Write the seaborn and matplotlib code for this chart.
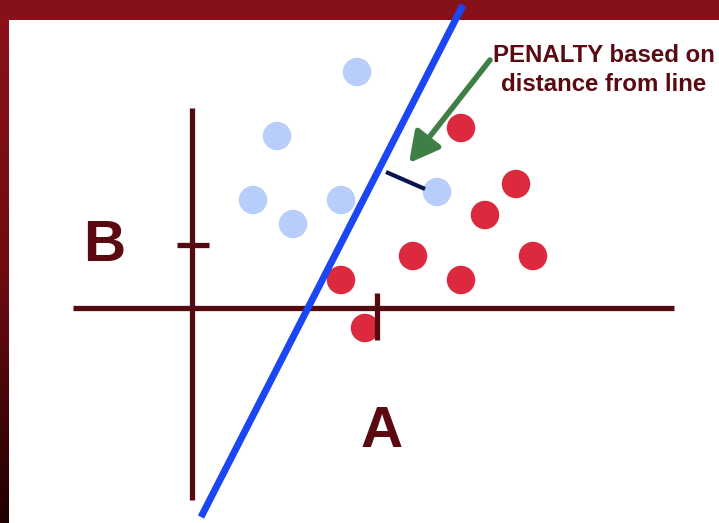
import numpy as np
import pandas as pd
import matplotlib.pyplot as plt
import seaborn as sns
from matplotlib.colors import LinearSegmentedColormap

# point positions (pixel units, y downward)
blue_x = [357, 277, 253, 293, 341, 437]
blue_y = [72, 136, 200, 224, 200, 192]
red_x = [461, 516, 485, 413, 533, 461, 341, 365]
red_y = [128, 184, 215, 256, 256, 280, 280, 328]

# separating line, axes and the penalty segment
line_x = [463, 201]
line_y = [5, 517]
axis_h_x = [73, 674]
axis_h_y = [308, 308]
axis_v_x = [192, 192]
axis_v_y = [108, 500]
tick_b_x = [177, 209]
tick_b_y = [245, 245]
tick_a_x = [377, 377]
tick_a_y = [293, 340]
penalty_x = [386, 425]
penalty_y = [172, 189]

note_text = "PENALTY based on\ndistance from line"

maroon = "#540A0F"
text_col = "#5A0A10"

sns.set_theme(style="white")
plt.rcParams['font.family'] = ['Liberation Sans', 'DejaVu Sans']

fig = plt.figure(figsize=(7.19, 5.23), dpi=100)
ax = fig.add_axes([0, 0, 1, 1])
ax.set_xlim(0, 719)
ax.set_ylim(523, 0)
ax.axis("off")

# slide frame: top bar and gradient left bar
ax.fill_between([0, 719], 0, 20, color="#87111A", lw=0, zorder=0)
grad = LinearSegmentedColormap.from_list("bar", ["#8B1119", "#6E0C12", "#200000"])
ax.imshow(np.linspace(0, 1, 256).reshape(-1, 1), cmap=grad, aspect="auto",
          extent=(0, 9, 523, 20), zorder=0)

# axes of the diagram
ax.plot(axis_h_x, axis_h_y, color=maroon, lw=3.8, solid_capstyle="butt", zorder=1)
ax.plot(axis_v_x, axis_v_y, color=maroon, lw=3.8, solid_capstyle="butt", zorder=1)
ax.plot(tick_b_x, tick_b_y, color=maroon, lw=3.8, solid_capstyle="butt", zorder=1)

df = pd.DataFrame({
    "x": blue_x + red_x,
    "y": blue_y + red_y,
    "cls": ["blue"] * len(blue_x) + ["red"] * len(red_x),
})
sns.scatterplot(data=df, x="x", y="y", hue="cls",
                palette={"blue": "#B8CEFA", "red": "#DB2A3E"},
                s=420, linewidth=0, legend=False, ax=ax, zorder=2)
ax.plot(tick_a_x, tick_a_y, color=maroon, lw=3.8, solid_capstyle="butt", zorder=3)

ax.plot(line_x, line_y, color="#1A46F5", lw=5, solid_capstyle="butt", zorder=4)
ax.plot(penalty_x, penalty_y, color="#0A1550", lw=3, solid_capstyle="butt", zorder=4)

ax.annotate("", xy=(409, 163), xytext=(490, 60),
            arrowprops=dict(arrowstyle="-|>,head_length=1.5,head_width=0.8",
                            color="#3F7F46", lw=4, shrinkA=0, shrinkB=0), zorder=5)
ax.text(604, 70, note_text, ha="center", va="center", fontsize=17.3,
        fontweight="bold", color=text_col, linespacing=1.3)

ax.text(104, 246, "B", ha="center", va="center", fontsize=42,
        fontweight="bold", color=text_col)
ax.text(382, 432, "A", ha="center", va="center", fontsize=42,
        fontweight="bold", color=text_col)

fig.savefig("out.png", dpi=100)
